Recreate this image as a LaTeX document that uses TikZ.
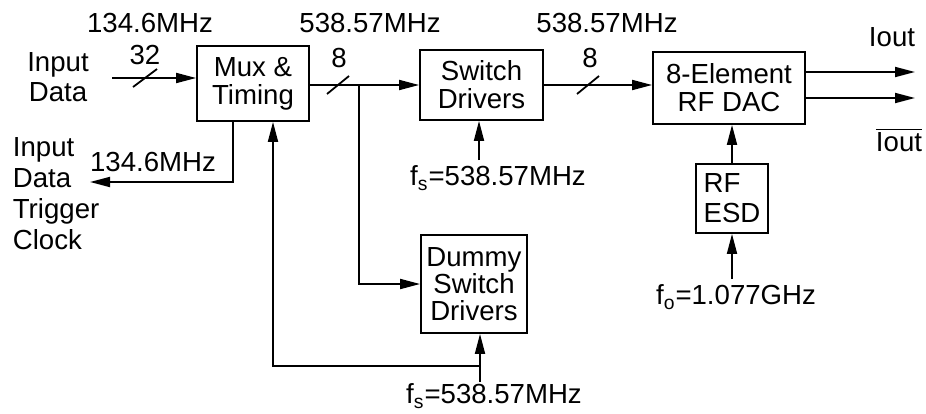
\documentclass[tikz,border=0pt]{standalone}
\usepackage{fontspec}
\setmainfont{Liberation Sans}
\usetikzlibrary{arrows.meta,calc}
\begin{document}
\begin{tikzpicture}[x=0.5pt,y=-0.5pt,
  line width=0.9pt,
  every node/.style={font=\fontsize{13.8}{14}\selectfont},
  blk/.style={draw,align=center,inner sep=0pt},
  lbl/.style={inner sep=0pt,align=center},
  arr/.style={-{Triangle[length=10pt,width=5pt]}},
  slash/.style={line width=0.9pt}]
\useasboundingbox (0,0) rectangle (926,413);

% blocks
\node[blk,minimum width=56pt,minimum height=37.5pt] (mux) at (253,83.5) {Mux \&\\Timing};
\node[blk,minimum width=61.5pt,minimum height=35pt] (sw) at (481.5,85) {Switch\\Drivers};
\node[blk,minimum width=76pt,minimum height=36pt] (dac) at (729,88) {8-Element\\RF DAC};
\node[blk,align=left,minimum width=36pt,minimum height=34.5pt,font=\fontsize{13.8}{15}\selectfont] (esd) at (732,198.5) {RF\\ESD};
\node[blk,minimum width=53pt,minimum height=49pt,font=\fontsize{13.8}{13.5}\selectfont] (dum) at (474,284) {Dummy\\Switch\\Drivers};

% labels
\node[lbl,font=\fontsize{13.8}{15}\selectfont] (indata) at (58,77) {Input\\Data};
\node[lbl] (f1) at (150,23) {134.6MHz};
\node[lbl] (n32) at (145,55) {32};
\node[lbl,align=left,anchor=west,font=\fontsize{13.8}{15.5}\selectfont] (trig) at (12,194) {Input\\Data\\Trigger\\Clock};
\node[lbl] (f2) at (153,162) {134.6MHz};
\node[lbl] (f3) at (370,23) {538.57MHz};
\node[lbl] (n8a) at (339,58) {8};
\node[lbl] (fs1) at (498,178) {f\textsubscript{s}=538.57MHz};
\node[lbl] (f4) at (607,23) {538.57MHz};
\node[lbl] (n8b) at (590,58) {8};
\node[lbl] (io) at (892,37) {Iout};
\node[lbl] (iob) at (899,140) {$\overline{\mbox{Iout}}$};
\node[lbl] (fs2) at (494,396) {f\textsubscript{s}=538.57MHz};
\node[lbl] (fo) at (736,297) {f\textsubscript{o}=1.077GHz};

% input data
\coordinate (inS) at (112,78);
\draw[arr] (inS) -- (inS -| mux.west);
\coordinate (s1) at (145,78);
\draw[slash] ($(s1)+(-12,9)$) -- ($(s1)+(12,-9)$);

% trigger clock
\coordinate (tr) at (233,182);
\coordinate (trEnd) at (90,182);
\draw[arr] (mux.south -| tr) -- (tr) -- (trEnd);

% mux -> switch drivers
\draw[arr] (mux.east |- sw.west) -- (sw.west);
\coordinate (s2) at (338,85);
\draw[slash] ($(s2)+(-11,9)$) -- ($(s2)+(11,-9)$);

% branch to dummy
\coordinate (br) at (359,85);
\draw[arr] (br) -- (br |- dum.west) -- (dum.west);

% fs into switch drivers
\coordinate (fs1b) at (479,160);
\draw[arr] (fs1b) -- (fs1b |- sw.south);

% switch -> dac
\draw[arr] (sw.east) -- (sw.east -| dac.west);
\coordinate (s3) at (588,85);
\draw[slash] ($(s3)+(-11,9)$) -- ($(s3)+(11,-9)$);

% outputs
\coordinate (o1) at (915,72);
\coordinate (o2) at (915,98);
\draw[arr] (o1 -| dac.east) -- (o1);
\draw[arr] (o2 -| dac.east) -- (o2);

% esd -> dac, fo -> esd
\draw[arr] (esd.north) -- (esd.north |- dac.south);
\coordinate (fob) at (732,279);
\draw[arr] (fob) -- (esd.south);

% dummy fs and feedback
\coordinate (fs2b) at (480,382);
\coordinate (fbL) at (273,366);
\draw[arr] (fs2b) -- (fs2b |- dum.south);
\draw[arr] (fs2b |- fbL) -- (fbL) -- (fbL |- mux.south);
\end{tikzpicture}
\end{document}
